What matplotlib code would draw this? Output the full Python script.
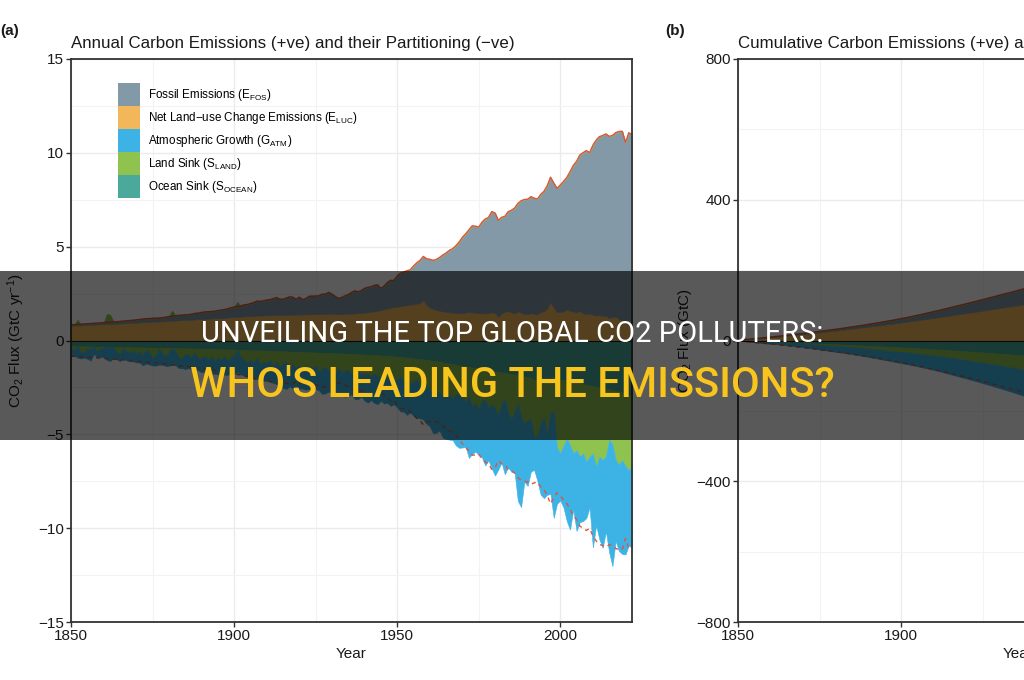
import numpy as np
import matplotlib
matplotlib.use('Agg')
import matplotlib.pyplot as plt
from matplotlib.patches import Patch, Rectangle
from matplotlib.ticker import MultipleLocator

plt.rcParams['font.family'] = ['Liberation Sans', 'DejaVu Sans']
plt.rcParams['mathtext.fontset'] = 'custom'
plt.rcParams['mathtext.rm'] = 'Liberation Sans'
plt.rcParams['mathtext.it'] = 'Liberation Sans:italic'
plt.rcParams['mathtext.bf'] = 'Liberation Sans:bold'

# ---------------- data (GtC / yr) ----------------
years = np.arange(1850, 2023)

fossil = np.array([
    0.054, 0.054, 0.057, 0.059, 0.069, 0.071, 0.076, 0.077, 0.078, 0.083,
    0.091, 0.095, 0.097, 0.104, 0.112, 0.119, 0.122, 0.130, 0.135, 0.142,
    0.147, 0.156, 0.173, 0.184, 0.174, 0.188, 0.191, 0.195, 0.196, 0.210,
    0.236, 0.243, 0.256, 0.272, 0.275, 0.277, 0.281, 0.295, 0.327, 0.327,
    0.356, 0.372, 0.374, 0.370, 0.383, 0.406, 0.419, 0.440, 0.465, 0.507,
    0.534, 0.552, 0.566, 0.617, 0.624, 0.663, 0.707, 0.784, 0.750, 0.785,
    0.819, 0.836, 0.879, 0.943, 0.850, 0.838, 0.901, 0.955, 0.936, 0.806,
    0.932, 0.803, 0.845, 0.970, 0.963, 0.975, 0.983, 1.062, 1.065, 1.145,
    1.053, 0.940, 0.847, 0.893, 0.973, 1.027, 1.130, 1.209, 1.142, 1.192,
    1.299, 1.334, 1.342, 1.391, 1.383, 1.160, 1.238, 1.392, 1.469, 1.419,
    1.630, 1.768, 1.796, 1.841, 1.865, 2.043, 2.178, 2.270, 2.330, 2.462,
    2.577, 2.594, 2.700, 2.848, 3.008, 3.145, 3.305, 3.411, 3.588, 3.800,
    4.053, 4.208, 4.376, 4.614, 4.623, 4.596, 4.864, 5.026, 5.087, 5.369,
    5.315, 5.152, 5.113, 5.094, 5.280, 5.439, 5.607, 5.752, 5.965, 6.097,
    6.127, 6.217, 6.164, 6.162, 6.266, 6.398, 6.542, 6.651, 6.643, 6.610,
    6.765, 6.927, 7.035, 7.413, 7.782, 8.045, 8.307, 8.560, 8.722, 8.591,
    9.024, 9.358, 9.515, 9.624, 9.691, 9.679, 9.676, 9.800, 10.018, 10.049,
    9.551, 9.990, 10.040])

land_use = np.array([
    0.78, 0.79, 0.80, 0.80, 0.81, 0.82, 0.83, 0.84, 0.85, 0.86,
    0.86, 0.87, 0.88, 0.88, 0.89, 0.90, 0.91, 0.92, 0.93, 0.94,
    0.95, 0.96, 0.97, 0.98, 0.99, 1.00, 1.00, 1.01, 1.02, 1.03,
    1.04, 1.05, 1.06, 1.07, 1.08, 1.09, 1.10, 1.11, 1.12, 1.13,
    1.14, 1.15, 1.16, 1.17, 1.18, 1.19, 1.20, 1.21, 1.22, 1.24,
    1.25, 1.26, 1.27, 1.28, 1.29, 1.30, 1.31, 1.32, 1.33, 1.33,
    1.34, 1.34, 1.35, 1.35, 1.35, 1.36, 1.36, 1.37, 1.37, 1.38,
    1.38, 1.38, 1.39, 1.39, 1.40, 1.40, 1.40, 1.41, 1.41, 1.42,
    1.42, 1.41, 1.40, 1.40, 1.41, 1.42, 1.43, 1.44, 1.45, 1.46,
    1.48, 1.50, 1.52, 1.55, 1.58, 1.62, 1.66, 1.70, 1.74, 1.78,
    1.80, 1.82, 1.85, 1.88, 1.90, 1.93, 1.96, 2.00, 2.15, 1.90,
    1.75, 1.68, 1.62, 1.58, 1.55, 1.52, 1.50, 1.48, 1.46, 1.45,
    1.45, 1.48, 1.52, 1.50, 1.47, 1.45, 1.44, 1.45, 1.47, 1.50,
    1.48, 1.25, 1.45, 1.52, 1.58, 1.50, 1.45, 1.55, 1.48, 1.42,
    1.40, 1.45, 1.42, 1.38, 1.52, 1.55, 1.70, 2.05, 1.75, 1.50,
    1.52, 1.55, 1.65, 1.58, 1.55, 1.50, 1.58, 1.45, 1.40, 1.42,
    1.38, 1.32, 1.35, 1.30, 1.32, 1.20, 1.25, 1.28, 1.12, 1.10,
    1.00, 1.08, 0.95])

atm_growth = np.array([
    0.45, 0.30, 0.60, 0.35, 0.25, 0.55, 0.60, 0.40, 0.30, 0.45,
    0.50, 0.70, 0.75, 0.60, 0.40, 0.35, 0.55, 0.50, 0.45, 0.60,
    0.45, 0.60, 0.50, 0.75, 0.65, 0.40, 0.55, 0.85, 0.60, 0.50,
    0.70, 0.90, 0.75, 0.55, 0.50, 0.80, 0.70, 0.65, 0.90, 0.60,
    0.75, 0.85, 0.55, 0.95, 0.65, 0.90, 0.70, 1.00, 0.75, 0.85,
    1.00, 1.20, 0.95, 0.80, 0.70, 0.95, 0.85, 1.10, 0.80, 1.00,
    0.95, 1.15, 0.90, 1.20, 1.00, 1.30, 1.45, 1.05, 1.25, 0.95,
    1.20, 1.05, 1.35, 1.00, 1.30, 1.25, 1.00, 1.35, 1.40, 1.10,
    1.20, 1.00, 1.30, 1.15, 1.35, 1.40, 1.05, 1.45, 1.50, 1.20,
    1.40, 1.55, 1.20, 1.60, 1.45, 1.30, 1.55, 1.25, 1.60, 1.35,
    1.50, 1.85, 1.60, 1.90, 1.55, 1.80, 2.05, 1.70, 2.00, 2.10,
    1.90, 2.10, 2.30, 2.00, 2.20, 2.50, 2.35, 2.20, 2.70, 2.90,
    2.60, 2.40, 3.30, 2.50, 2.60, 2.40, 3.00, 3.50, 2.80, 3.40,
    3.60, 2.90, 3.10, 4.00, 2.90, 2.80, 3.20, 5.20, 4.80, 3.10,
    3.50, 2.80, 1.70, 2.40, 3.80, 4.30, 3.20, 4.30, 5.70, 3.00,
    2.50, 3.30, 4.40, 4.50, 3.00, 4.30, 3.50, 3.60, 3.00, 2.70,
    5.00, 3.10, 4.40, 4.70, 4.00, 6.00, 6.50, 4.30, 4.60, 5.00,
    4.70, 4.00, 4.40])

land_sink = np.array([
    0.10, 0.20, -0.25, 0.30, 0.35, 0.10, 0.15, 0.00, 0.25, 0.10,
    0.05, -0.45, -0.40, -0.05, 0.25, 0.40, 0.05, 0.20, 0.30, 0.15,
    0.35, 0.20, 0.45, 0.10, 0.25, 0.55, 0.40, 0.05, 0.30, 0.45,
    0.25, -0.30, 0.15, 0.50, 0.55, 0.30, 0.35, 0.45, 0.20, 0.55,
    0.50, 0.35, 0.60, 0.40, 0.65, 0.45, 0.55, 0.35, 0.60, 0.45,
    0.30, -0.25, 0.35, 0.55, 0.70, 0.50, 0.65, 0.40, 0.75, 0.60,
    0.65, 0.50, 0.80, 0.55, 0.85, 0.65, 0.55, 0.80, 0.70, 0.85,
    0.75, 0.90, 0.65, 0.95, 0.80, 0.70, 1.00, 0.85, 0.75, 0.95,
    0.90, 1.05, 0.80, 1.00, 0.95, 0.85, 1.10, 0.95, 0.90, 1.05,
    1.05, 1.00, 1.20, 0.95, 1.15, 1.10, 1.00, 1.25, 1.05, 1.20,
    1.20, 1.05, 1.30, 1.15, 1.35, 1.25, 1.10, 1.45, 1.20, 1.30,
    1.60, 1.75, 1.50, 1.65, 1.80, 1.55, 1.70, 1.85, 1.60, 1.50,
    1.75, 1.90, 1.55, 2.10, 1.85, 2.20, 1.70, 1.60, 2.00, 1.80,
    1.95, 2.30, 1.70, 1.40, 2.10, 2.40, 2.00, 1.50, 2.20, 2.50,
    2.30, 2.20, 3.10, 3.00, 2.40, 2.10, 3.00, 1.90, 1.80, 3.60,
    3.90, 3.50, 3.10, 3.40, 3.80, 3.60, 3.90, 3.70, 4.10, 3.80,
    3.60, 4.30, 3.70, 3.80, 3.60, 2.70, 2.90, 3.70, 3.90, 3.60,
    3.80, 4.00, 3.80])

ocean_sink = np.array([
    0.30, 0.30, 0.31, 0.31, 0.31, 0.32, 0.32, 0.32, 0.33, 0.33,
    0.33, 0.34, 0.34, 0.34, 0.35, 0.35, 0.35, 0.36, 0.36, 0.36,
    0.37, 0.37, 0.37, 0.38, 0.38, 0.38, 0.39, 0.39, 0.39, 0.40,
    0.40, 0.40, 0.41, 0.41, 0.42, 0.42, 0.42, 0.43, 0.43, 0.44,
    0.44, 0.45, 0.45, 0.45, 0.46, 0.46, 0.47, 0.47, 0.48, 0.48,
    0.49, 0.49, 0.50, 0.50, 0.51, 0.52, 0.52, 0.53, 0.53, 0.54,
    0.55, 0.55, 0.56, 0.57, 0.57, 0.58, 0.58, 0.59, 0.60, 0.60,
    0.61, 0.61, 0.62, 0.63, 0.63, 0.64, 0.65, 0.65, 0.66, 0.67,
    0.68, 0.68, 0.69, 0.69, 0.70, 0.71, 0.72, 0.72, 0.73, 0.74,
    0.75, 0.76, 0.77, 0.78, 0.79, 0.80, 0.81, 0.82, 0.83, 0.85,
    0.86, 0.88, 0.89, 0.91, 0.93, 0.95, 0.97, 0.99, 1.01, 1.04,
    1.06, 1.09, 1.12, 1.14, 1.17, 1.20, 1.23, 1.26, 1.29, 1.32,
    1.35, 1.38, 1.41, 1.44, 1.47, 1.50, 1.53, 1.56, 1.59, 1.62,
    1.65, 1.68, 1.70, 1.73, 1.76, 1.79, 1.82, 1.85, 1.88, 1.92,
    1.95, 1.98, 2.10, 2.08, 2.02, 2.00, 2.02, 1.98, 1.95, 2.10,
    2.12, 2.10, 2.12, 2.18, 2.20, 2.25, 2.28, 2.32, 2.36, 2.40,
    2.42, 2.45, 2.50, 2.55, 2.58, 2.60, 2.62, 2.68, 2.72, 2.78,
    2.90, 2.92, 2.85])

labels = [r'Fossil Emissions (E$_\mathrm{FOS}$)',
          r'Net Land$-$use Change Emissions (E$_\mathrm{LUC}$)',
          r'Atmospheric Growth (G$_\mathrm{ATM}$)',
          r'Land Sink (S$_\mathrm{LAND}$)',
          r'Ocean Sink (S$_\mathrm{OCEAN}$)']

C_FOS = '#8499a7'
C_LUC = '#f2b75a'
C_ATM = '#3cb3e4'
C_LAND = '#8fc24e'
C_OCEAN = '#4aa99a'
RED = '#e0533f'
AX_COL = '#333333'


def draw(ax, fos, luc, atm, land, ocean):
    kw = dict(linewidth=0.4)
    land_s = np.clip(land, 0, None)
    land_src = np.clip(-land, 0, None)
    n1 = -ocean
    n2 = n1 - land_s
    n3 = n2 - atm
    ax.fill_between(years, 0, n1, color=C_OCEAN, **kw)
    ax.fill_between(years, n1, n2, color=C_LAND, **kw)
    ax.fill_between(years, n2, n3, color=C_ATM, **kw)
    tot = luc + fos
    ax.fill_between(years, 0, luc, color=C_LUC, **kw)
    ax.fill_between(years, luc, tot, color=C_FOS, **kw)
    ax.fill_between(years, tot, tot + land_src, color=C_LAND, **kw)
    ax.plot(years, tot, color=RED, lw=1.0)
    ax.plot(years, -tot, color=RED, lw=1.0, ls=(0, (3, 3)))
    ax.axhline(0, color='#1a1a1a', lw=0.8)


def style(ax, ymaj, ymin_step):
    ax.set_xlim(1850, 2022)
    ax.xaxis.set_major_locator(MultipleLocator(50))
    ax.xaxis.set_minor_locator(MultipleLocator(25))
    ax.yaxis.set_major_locator(MultipleLocator(ymaj))
    ax.yaxis.set_minor_locator(MultipleLocator(ymin_step))
    ax.set_axisbelow(True)
    ax.grid(which='major', color='#ebebeb', lw=1.0)
    ax.grid(which='minor', color='#f3f3f3', lw=0.8)
    for s in ax.spines.values():
        s.set_color(AX_COL)
        s.set_linewidth(1.3)
    ax.tick_params(which='major', direction='out', length=3.5, width=1,
                   color=AX_COL, labelcolor='#1a1a1a', labelsize=11, pad=1.5)
    ax.tick_params(which='minor', length=0)
    ax.set_xlabel('Year', fontsize=11, color='#1a1a1a', labelpad=3)


fig = plt.figure(figsize=(10.24, 6.8), dpi=100)
W, H = 1024, 680
axa = fig.add_axes([71 / W, 1 - 622 / H, 561 / W, 563 / H])
axb = fig.add_axes([738 / W, 1 - 622 / H, 561 / W, 563 / H])

# Panel (a): annual fluxes
draw(axa, fossil, land_use, atm_growth, land_sink, ocean_sink)
style(axa, 5, 2.5)
axa.set_ylim(-15, 15)
axa.set_ylabel(r'CO$_\mathrm{2}$ Flux (GtC yr$^{-1}$)', fontsize=11,
               color='#1a1a1a', labelpad=8)
axa.set_title('Annual Carbon Emissions (+ve) and their Partitioning (\u2212ve)',
              loc='left', fontsize=12.2, color='#1a1a1a', pad=8)
handles = [Patch(facecolor=c, edgecolor='none')
           for c in (C_FOS, C_LUC, C_ATM, C_LAND, C_OCEAN)]
axa.legend(handles, labels, loc='upper left', bbox_to_anchor=(0.084, 0.957),
           frameon=False, fontsize=8.4, handlelength=1.886, handleheight=2.656,
           labelspacing=0.0, handletextpad=0.65, borderpad=0, borderaxespad=0)

# Panel (b): cumulative
draw(axb, np.cumsum(fossil), np.cumsum(land_use), np.cumsum(atm_growth),
     np.cumsum(land_sink), np.cumsum(ocean_sink))
style(axb, 400, 200)
axb.set_ylim(-800, 800)
axb.set_ylabel(r'CO$_\mathrm{2}$ Flux (GtC)', fontsize=11, color='#1a1a1a',
               labelpad=2)
axb.set_title('Cumulative Carbon Emissions (+ve) and their Partitioning (\u2212ve)',
              loc='left', fontsize=12.2, color='#1a1a1a', pad=8)

fig.text(0 / W, 1 - 31 / H, '(a)', fontsize=11, fontweight='bold',
         ha='left', va='center', color='#1a1a1a')
fig.text(665 / W, 1 - 31 / H, '(b)', fontsize=11, fontweight='bold',
         ha='left', va='center', color='#1a1a1a')

# Banner overlay
fig.add_artist(Rectangle((0, 1 - 440 / H), 1, 169 / H, transform=fig.transFigure,
                         facecolor='black', alpha=0.65, edgecolor='none', zorder=10))
fig.text(0.5, 1 - 342 / H, 'UNVEILING THE TOP GLOBAL CO2 POLLUTERS:',
         family=['Roboto', 'DejaVu Sans'], fontsize=21, color='white',
         ha='center', va='baseline', zorder=11)
fig.text(0.5, 1 - 397 / H, "WHO'S LEADING THE EMISSIONS?",
         family=['Roboto', 'DejaVu Sans'], fontsize=30, fontweight='medium',
         color='#f7c51d', ha='center', va='baseline', zorder=11)

fig.savefig('out.png', dpi=100)
